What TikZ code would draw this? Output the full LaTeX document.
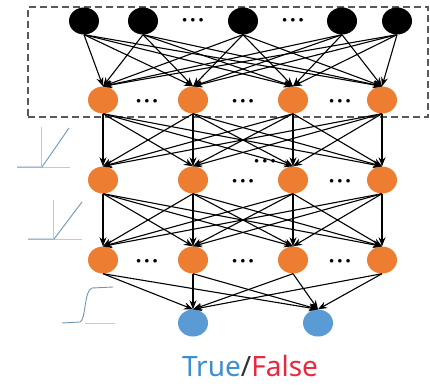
\documentclass[tikz,border=0pt]{standalone}
\usepackage{fontspec}
\newfontfamily\labelfont{Noto Sans}
\usetikzlibrary{arrows.meta,shapes.geometric}
\definecolor{nodeorange}{HTML}{ED7D31}
\definecolor{nodeblue}{HTML}{5B9BD5}
\definecolor{trueblue}{HTML}{3D8ECF}
\definecolor{falsered}{HTML}{E8283C}
\definecolor{iconblue}{HTML}{6F96B4}
\definecolor{axisgray}{HTML}{C8C8C8}
\tikzset{
  neuron/.style={ellipse, minimum width=30pt, minimum height=27pt, inner sep=0pt},
  inneuron/.style={neuron, fill=black},
  hidneuron/.style={neuron, fill=nodeorange},
  outneuron/.style={neuron, fill=nodeblue},
  conn/.style={line width=1.1pt, -{Stealth[length=9pt,width=7pt]}},
  dotsnode/.style={inner sep=0pt, font=\small},
  frame/.style={draw=black!65, line width=1.3pt, dash pattern=on 7pt off 4pt},
  icon/.style={draw=iconblue, line width=0.9pt},
  axis/.style={draw=axisgray, line width=0.6pt}
}
\begin{document}
\begin{tikzpicture}[x=1pt,y=-1pt]
\useasboundingbox (0,0) rectangle (430,385);
% dashed frame
\node[frame, minimum width=400pt, minimum height=110pt, inner sep=0pt] (box) at (228,62) {};
% input layer
\foreach \n/\x in {i1/84,i2/143,i3/243,i4/342,i5/397}
  \node[inneuron] (\n) at (\x,21) {};
\node[dotsnode] (di1) at (193,20) {$\bullet\,\bullet\,\bullet$};
\node[dotsnode] (di2) at (293,20) {$\bullet\,\bullet\,\bullet$};
% hidden layer 1
\foreach \n/\x in {a1/103,a2/193,a3/293,a4/382}
  \node[hidneuron] (\n) at (\x,100) {};
\foreach \n/\x in {da1/147,da2/243,da3/340}
  \node[dotsnode] (\n) at (\x,101) {$\bullet\,\bullet\,\bullet$};
% hidden layer 2
\foreach \n/\x in {b1/103,b2/193,b3/293,b4/382}
  \node[hidneuron] (\n) at (\x,180) {};
\foreach \n/\x in {db1/243,db2/340}
  \node[dotsnode] (\n) at (\x,181) {$\bullet\,\bullet\,\bullet$};
\node[dotsnode] (db3) at (265,161) {$\bullet\,\bullet\,\bullet$};
% hidden layer 3
\foreach \n/\x in {c1/103,c2/193,c3/293,c4/382}
  \node[hidneuron] (\n) at (\x,260) {};
\foreach \n/\x in {dc1/147,dc2/243,dc3/340}
  \node[dotsnode] (\n) at (\x,261) {$\bullet\,\bullet\,\bullet$};
% output layer
\node[outneuron] (o1) at (193,323) {};
\node[outneuron] (o2) at (318,323) {};
% connections
\foreach \s in {i1,i2,i3,i4,i5}
  \foreach \t in {a1,a2,a3,a4}
    \draw[conn] (\s.south) -- (\t.north);
\foreach \s in {a1,a2,a3,a4}
  \foreach \t in {b1,b2,b3,b4}
    \draw[conn] (\s.south) -- (\t.north);
\foreach \s in {b1,b2,b3,b4}
  \foreach \t in {c1,c2,c3,c4}
    \draw[conn] (\s.south) -- (\t.north);
\foreach \s in {c1,c2,c3,c4}
  \foreach \t in {o1,o2}
    \draw[conn] (\s.south) -- (\t.north);
% label
\node[font=\labelfont\fontsize{28}{30}\selectfont, inner sep=0pt] (lbl) at (250,366)
  {\textcolor{trueblue}{True}\textcolor{black!80}{/}\textcolor{falsered}{False}};
% activation icons
\draw[axis] (41,127) -- (41,166);
\draw[axis] (17,167) -- (70,167);
\draw[icon] (17,167) -- (42,167) -- (69,128);
\draw[axis] (53,200) -- (53,238);
\draw[axis] (28,239) -- (82,239);
\draw[icon] (28,239) -- (54,239) -- (82,202);
\draw[axis] (85,323) -- (115,323);
\draw[icon] (62,323) -- (80,322) .. controls (86,320) and (84,290) .. (92,288) -- (113,287);
\end{tikzpicture}
\end{document}
